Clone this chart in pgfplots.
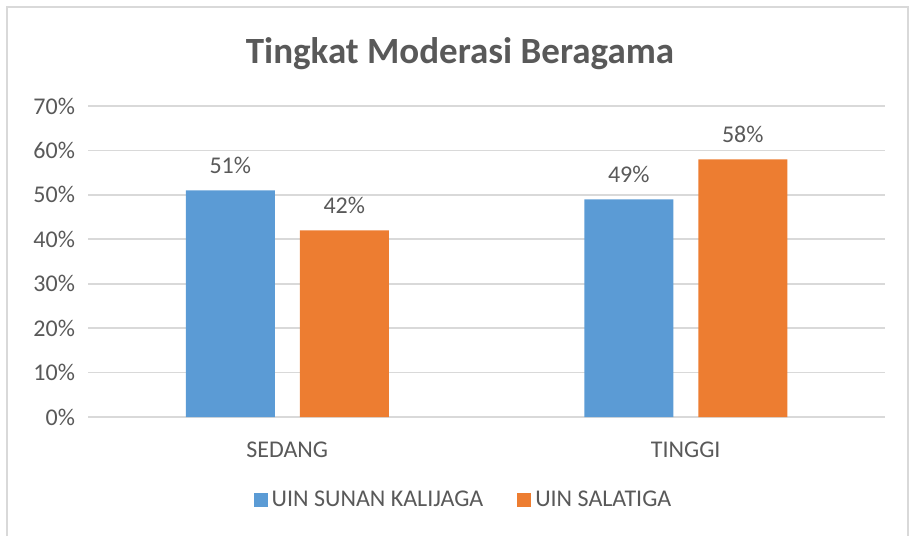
\documentclass[border=0pt]{standalone}
\usepackage{pgfplots}
\pgfplotsset{compat=1.18}
\usepackage{fontspec}
\setmainfont{Carlito}
\definecolor{barblue}{HTML}{5B9BD5}
\definecolor{barorange}{HTML}{ED7D31}
\definecolor{txt}{HTML}{595959}
\definecolor{gridc}{HTML}{D9D9D9}
\begin{document}
\begin{tikzpicture}
% canvas in px of the reference (0.5pt per px), y up from the bottom
\begin{scope}[x=0.5pt,y=0.5pt]
\useasboundingbox (0,0) rectangle (911,536);
\draw[gridc,line width=1pt] (6.5,0) -- (6.5,528.5) -- (908,528.5) -- (908,0);
\node[font=\bfseries\fontsize{18.5}{22}\selectfont,text=txt] at (460,482) {Tingkat Moderasi Beragama};
\end{scope}
\begin{axis}[at={(44pt,59.5pt)},anchor=south west,
  scale only axis,width=398.5pt,height=155.5pt,
  xmin=-0.5,xmax=1.5,ymin=0,ymax=70,
  xtick=data,xticklabels={SEDANG,TINGGI},
  ytick={0,10,...,70},yticklabel={\pgfmathprintnumber{\tick}\%},
  /pgf/number format/assume math mode=true,
  ybar=12.5pt,bar width=44.5pt,
  axis lines*=left,
  x axis line style={gridc,line width=1pt},
  y axis line style={draw=none},
  ymajorgrids,grid style={gridc,line width=0.8pt},
  major tick length=0pt,
  tick label style={font=\fontsize{12}{14}\selectfont,text=txt},
  yticklabel style={xshift=-3pt},
  xticklabel style={yshift=-9pt},
  nodes near coords={\pgfmathprintnumber{\pgfplotspointmeta}\%},
  every node near coord/.append style={font=\fontsize{12}{14}\selectfont,text=txt,yshift=5pt},
  legend columns=2,
  legend style={at={(0.4724,-0.267)},anchor=center,draw=none,fill=none,
    font=\fontsize{12}{14}\selectfont,text=txt,
    /tikz/every even column/.append style={column sep=15pt}},
  legend image code/.code={\fill[#1] (0,-3.5pt) rectangle (7pt,3.5pt);},
  ]
\addplot[fill=barblue,draw=none] coordinates {(0,51) (1,49)};
\addplot[fill=barorange,draw=none] coordinates {(0,42) (1,58)};
\legend{UIN SUNAN KALIJAGA,UIN SALATIGA}
\end{axis}
\end{tikzpicture}
\end{document}
